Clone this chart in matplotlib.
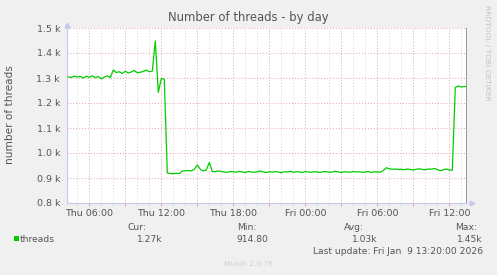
"""
Munin style daily graph: number of threads - by day.
"""

import matplotlib

matplotlib.use("Agg")

import matplotlib.dates as mdates
import matplotlib.pyplot as plt
import pandas as pd
from matplotlib.ticker import FuncFormatter, MultipleLocator


# samples every 15 minutes starting Thu 04:15
START = "2026-01-08 04:15"
STEP = "15min"
THREADS = [
    1305, 1302, 1308, 1304, 1306, 1300, 1307, 1303, 1309, 1301, 1306, 1296, 1304, 1308, 1302,
    1332, 1322, 1325, 1318, 1327, 1320, 1324, 1330, 1321, 1323, 1326, 1332, 1325, 1328,
    1448, 1243, 1298, 1295,
    920, 918, 917, 919, 917,
    928, 929, 930, 928, 935, 952, 935, 928, 932,
    962, 926, 925, 928, 926, 924, 923, 926,
    925, 923, 927, 924, 922, 926, 924, 923, 925, 928, 924, 922, 925, 923, 926, 924, 921,
    925, 924, 927, 923, 925, 924, 922, 926, 924, 923, 925, 924, 922, 926, 925, 923, 924,
    927, 924, 922, 925, 924, 923, 926, 924, 925, 923, 924, 926, 922, 925, 924, 923,
    930, 941, 937, 935, 936, 934, 935, 933, 936, 934, 932, 935, 937, 934, 933, 936, 935,
    938, 934, 929, 933, 936, 932, 931,
    1262, 1268, 1264, 1266, 1265,
]

X_START = "2026-01-08 04:08:30"
X_END = "2026-01-09 13:28:30"
Y_MIN, Y_MAX = 800, 1500

LEGEND_LABELS = ["Cur:", "Min:", "Avg:", "Max:"]
LEGEND_VALUES = ["1.27k", "914.80", "1.03k", "1.45k"]
LAST_UPDATE = "Last update: Fri Jan  9 13:20:00 2026"

W, H = 497, 275
BG = "#f0f0f0"
TEXT = "#555555"
LINE = "#00cc00"
MGRID = "#e4a4a4"
GRID = "#d4d4d4"
AXIS = "#c8c8f0"


def px(x, y):
    return x / W, 1 - y / H


def main():
    times = pd.date_range(START, periods=len(THREADS), freq=STEP)

    fig = plt.figure(figsize=(W / 100, H / 100), dpi=100)
    fig.patch.set_facecolor(BG)
    plt.rcParams["font.family"] = ["DejaVu Sans"]

    left, top, right, bottom = 67, 28, 467, 203
    axis = fig.add_axes([left / W, 1 - bottom / H, (right - left) / W, (bottom - top) / H])
    axis.set_facecolor("white")

    axis.plot(times, THREADS, color=LINE, linewidth=0.9, zorder=3)

    axis.set_xlim(pd.Timestamp(X_START), pd.Timestamp(X_END))
    axis.set_ylim(Y_MIN, Y_MAX)

    # grid: minor every hour, major every 3 hours, labels every 6 hours
    axis.xaxis.set_minor_locator(mdates.HourLocator())
    axis.xaxis.set_major_locator(mdates.HourLocator(byhour=range(0, 24, 3)))
    axis.xaxis.set_major_formatter(
        FuncFormatter(
            lambda v, pos: mdates.num2date(v).strftime("%a %H:%M")
            if mdates.num2date(v).hour % 6 == 0
            else ""
        )
    )
    axis.yaxis.set_major_locator(MultipleLocator(100))
    axis.yaxis.set_major_formatter(FuncFormatter(lambda v, pos: f"{v / 1000:.1f} k"))

    axis.grid(which="minor", axis="x", color=GRID, linestyle=(0, (1, 2)), linewidth=0.7)
    axis.grid(which="major", axis="both", color=MGRID, linestyle=(0, (1, 2)), linewidth=0.7)

    axis.tick_params(axis="y", length=0, pad=5, labelsize=6.8, labelcolor=TEXT)
    axis.tick_params(axis="x", which="major", length=2.5, color=MGRID, pad=2,
                     labelsize=6.8, labelcolor=TEXT)
    axis.tick_params(axis="x", which="minor", length=1.5, color=GRID)

    for side in ["top", "right"]:
        axis.spines[side].set_visible(False)
    axis.spines["left"].set_color(AXIS)
    axis.spines["bottom"].set_color(AXIS)

    # right border rule and axis arrows
    axis.axvline(pd.Timestamp(X_END), color="#999999", linewidth=1.4, zorder=4)
    axis.plot([1.0 + 5 / 400], [0], marker=">", color=AXIS, markersize=3.5,
              transform=axis.transAxes, clip_on=False)
    axis.plot([0], [1.0 + 3 / 175], marker="^", color=AXIS, markersize=3.5,
              transform=axis.transAxes, clip_on=False)

    fig.text(*px(248, 21), "Number of threads - by day", ha="center", va="baseline",
             fontsize=8.4, color=TEXT)
    fig.text(*px(10, 115), "number of threads", rotation=90, ha="center", va="center",
             fontsize=7.6, color=TEXT)
    fig.text(*px(487, 5), "RRDTOOL / TOBI OETIKER", rotation=270, ha="center", va="top",
             fontsize=5.4, color="#c4c4c4")

    # legend block
    fig.patches.append(
        plt.Rectangle(px(14, 241), 5 / W, 5 / H, transform=fig.transFigure,
                      facecolor=LINE, edgecolor="none")
    )
    fig.text(*px(20, 242), "threads", ha="left", va="baseline", fontsize=6.6, color=TEXT)

    label_right = [146, 256, 364, 477]
    value_right = [163, 268, 378, 483]
    for name, value, lx, vx in zip(LEGEND_LABELS, LEGEND_VALUES, label_right, value_right):
        fig.text(*px(lx, 230), name, ha="right", va="baseline", fontsize=6.6, color=TEXT)
        fig.text(*px(vx, 242), value, ha="right", va="baseline", fontsize=6.6, color=TEXT)
    fig.text(*px(483, 254), LAST_UPDATE, ha="right", va="baseline", fontsize=6.6, color=TEXT)

    fig.text(*px(248, 266), "Munin 2.0.76", ha="center", va="baseline", fontsize=5.4,
             color="#d0d0d0")

    fig.savefig("out.png", dpi=100, facecolor=BG)
    plt.close(fig)


if __name__ == "__main__":
    main()
